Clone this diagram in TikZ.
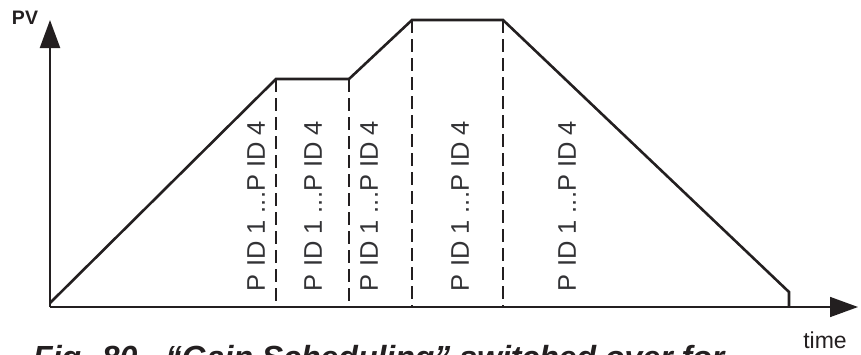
\documentclass[tikz,border=0pt]{standalone}
\usepackage{fontspec}
\setmainfont{Liberation Sans}
\usetikzlibrary{arrows.meta}
\definecolor{ink}{RGB}{35,31,32}
\definecolor{labelInk}{RGB}{50,50,53}
\tikzset{
  axisLine/.style={draw=ink, line width=1.6pt, -{Triangle[length=28pt,width=20pt]}},
  profile/.style={draw=ink, line width=2.6pt, line join=miter},
  switchLine/.style={draw=ink, line width=1.9pt, dash pattern=on 13pt off 6pt},
  pidLabel/.style={rotate=90, font=\fontsize{25.5}{25.5}\selectfont, text=labelInk, inner sep=0pt},
  axisLabel/.style={inner sep=0pt, text=ink},
  caption/.style={inner sep=0pt, text=ink, font=\fontsize{32}{32}\selectfont\bfseries\itshape}
}
\begin{document}
\begin{tikzpicture}[x=1pt, y=-1pt]
  \useasboundingbox (0,0) rectangle (861,354);

  % axes
  \coordinate (origin) at (50,307);
  \coordinate (pvTip) at (50,20);
  \coordinate (timeTip) at (858,307);
  \draw[axisLine, line width=2.2pt] (origin) -- (pvTip);
  \draw[axisLine] (origin) -- (timeTip);

  % process value profile
  \coordinate (start) at (50,303);
  \coordinate (ramp1) at (276,79);
  \coordinate (hold1) at (349,79);
  \coordinate (ramp2) at (412,20);
  \coordinate (hold2) at (503,20);
  \coordinate (fall) at (789,292);
  \coordinate (stop) at (789,307);
  \draw[profile] (start) -- (ramp1) -- (hold1) -- (ramp2) -- (hold2) -- (fall) -- (stop);

  % switch-over points
  \foreach \p in {ramp1, hold1, ramp2, hold2}
    \draw[switchLine] (\p) -- (\p |- origin);

  \foreach \x/\name in {256/pidA, 313/pidB, 369/pidC, 460/pidD, 567/pidE}
    \node[pidLabel] (\name) at (\x,206) {P ID 1 ...P ID 4};

  \node[axisLabel, font=\fontsize{19.5}{19.5}\selectfont\bfseries, anchor=base] (pv) at (25,24) {PV};
  \node[axisLabel, font=\fontsize{23}{23}\selectfont, anchor=base] (time) at (825,348) {time};
  \node[caption, anchor=base west] (fig) at (33,368) {Fig. 80 - “Gain Scheduling” switched over for};
\end{tikzpicture}
\end{document}
